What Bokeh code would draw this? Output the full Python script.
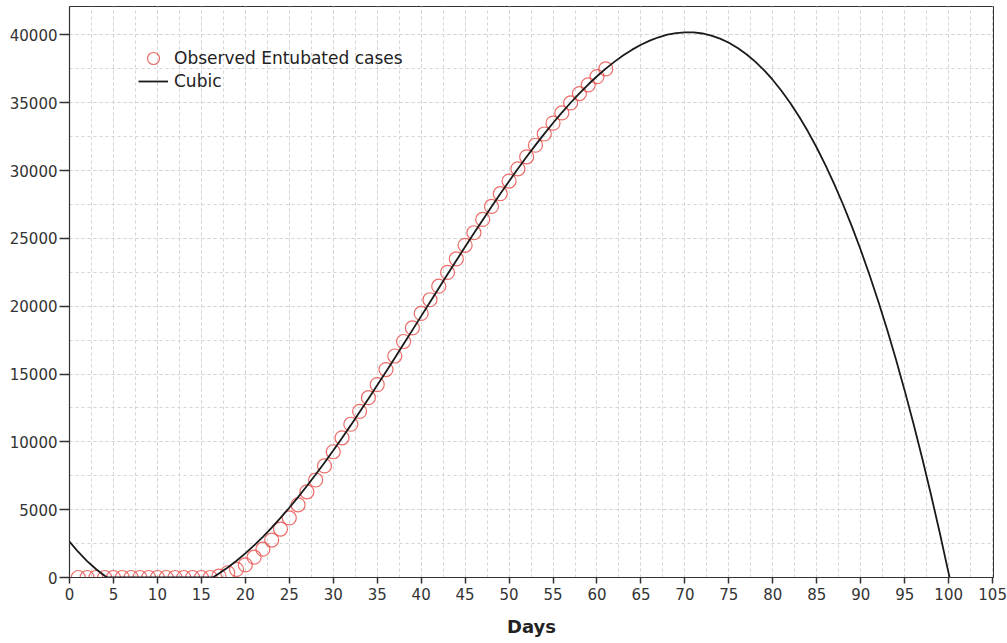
from bokeh.plotting import figure
from bokeh.models import Range1d, SingleIntervalTicker, Legend, LegendItem
from bokeh.embed import file_html
from bokeh.resources import INLINE

# Observed entubated cases (days 1..61)
obs_days = list(range(1, 62))
obs_cases = [0, 0, 0, 0, 0, 0, 0, 0, 0, 0, 0, 0, 0, 0, 0, 0,
             100, 350, 600, 930, 1500, 2090, 2760, 3570, 4390, 5360, 6320, 7190, 8230, 9270,
             10300, 11300, 12250, 13260, 14220, 15330, 16330, 17400, 18400, 19470,
             20480, 21480, 22490, 23490, 24490, 25420, 26400, 27360, 28300, 29230,
             30130, 31020, 31870, 32700, 33500, 34250, 34990, 35680, 36320, 36930, 37500]

# Cubic fit curve (clipped at 0)
cubic_days = [0, 1, 2, 3, 4, 4.3, 16.3] + list(range(17, 101)) + [100.1]
cubic_vals = [2641, 1882, 1212, 628, 129, 0, 0,
              296, 741, 1236, 1780, 2370, 3003, 3677, 4391, 5141, 5926, 6743, 7590, 8465, 9365,
              10289, 11234, 12196, 13177, 14169, 15175, 16190, 17212, 18239, 19270,
              20300, 21329, 22353, 23372, 24381, 25381, 26366, 27337, 28289, 29223,
              30133, 31020, 31878, 32710, 33508, 34273, 35004, 35696, 36347, 36956,
              37518, 38036, 38503, 38919, 39280, 39586, 39832, 40019, 40141, 40199,
              40189, 40110, 39958, 39732, 39429, 39046, 38584, 38037, 37405, 36685,
              35874, 34971, 33973, 32878, 31684, 30388, 28988, 27482, 25867, 24143,
              22304, 20351, 18280, 16089, 13777, 11340, 8776, 6084, 3260, 303, 0]

FONT = "DejaVu Sans"

p = figure(width=1007, height=643, output_backend="svg", toolbar_location=None,
           x_range=Range1d(0, 105.1), y_range=Range1d(0, 42100),
           min_border_left=69, min_border_right=14, min_border_top=6, min_border_bottom=66)

p.background_fill_color = "white"
p.border_fill_color = "white"
p.outline_line_color = "#333333"
p.outline_line_width = 1

p.xaxis.ticker = SingleIntervalTicker(interval=5, num_minor_ticks=2)
p.yaxis.ticker = SingleIntervalTicker(interval=5000, num_minor_ticks=2)

for g in (p.xgrid[0], p.ygrid[0]):
    g.grid_line_color = "#d4d4d4"
    g.grid_line_dash = "3 3"
    g.grid_line_width = 1
    g.minor_grid_line_color = "#d4d4d4"
    g.minor_grid_line_dash = "3 3"
    g.minor_grid_line_width = 1

for ax in (p.xaxis[0], p.yaxis[0]):
    ax.axis_line_color = "#333333"
    ax.axis_line_width = 1.2
    ax.major_tick_line_color = "#333333"
    ax.major_tick_line_width = 1.5
    ax.minor_tick_line_color = None
    ax.major_tick_in = 0
    ax.major_label_text_font = FONT
    ax.major_label_text_font_size = "15px"
    ax.major_label_text_color = "#333333"

p.xaxis.major_tick_out = 6
p.xaxis.major_label_standoff = 4
p.yaxis.major_tick_out = 10
p.yaxis.major_label_standoff = 2

p.xaxis.axis_label = "Days"
p.xaxis.axis_label_text_font = FONT
p.xaxis.axis_label_text_font_style = "bold"
p.xaxis.axis_label_text_font_size = "18px"
p.xaxis.axis_label_text_color = "#222222"
p.xaxis.axis_label_standoff = 13

r_obs = p.scatter(obs_days, obs_cases, marker="circle", size=14, fill_color=None,
                  line_color="#e8534f", line_alpha=0.85, line_width=1.2)
r_cub = p.line(cubic_days, cubic_vals, line_color="#1a1a1a", line_width=1.8)


def make_legend(label, renderer, loc, gh):
    lg = Legend(items=[LegendItem(label=label, renderers=[renderer])], location=loc)
    lg.background_fill_alpha = 0
    lg.border_line_color = None
    lg.padding = 0
    lg.margin = 0
    lg.spacing = 0
    lg.glyph_width = 30
    lg.glyph_height = gh
    lg.label_height = 20
    lg.label_standoff = 6
    lg.label_text_font = FONT
    lg.label_text_font_size = "17px"
    lg.label_text_color = "#222222"
    return lg


p.add_layout(make_legend("Observed Entubated cases", r_obs, (69, 502), 34), "center")
p.add_layout(make_legend("Cubic", r_cub, (69, 486), 20), "center")

open("out.html", "w").write(file_html(p, INLINE))
